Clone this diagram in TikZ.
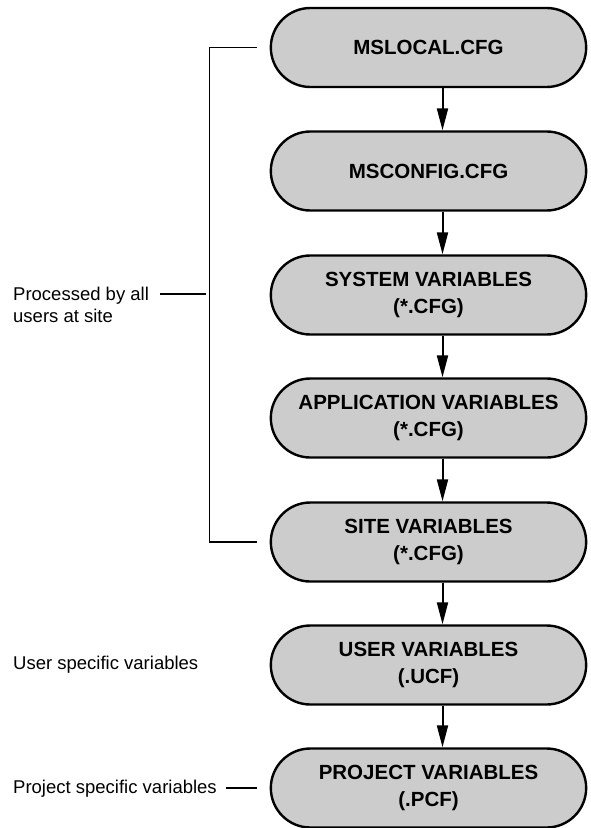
\documentclass[tikz,border=0pt]{standalone}
\usepackage{fontspec}
\setmainfont{Liberation Sans}
\usetikzlibrary{shapes.misc,arrows.meta}
\definecolor{cfggray}{RGB}{204,204,204}

\begin{document}
\begin{tikzpicture}[x=1pt,y=1pt,
  cfgbox/.style={rounded rectangle, draw, line width=2.4pt, fill=cfggray,
    minimum width=322pt, minimum height=79pt, align=center,
    font=\fontsize{20.5}{27}\selectfont\bfseries},
  note/.style={anchor=west, align=left, inner sep=0pt,
    font=\fontsize{18.5}{22}\selectfont},
  flow/.style={line width=2pt, -{Triangle[length=22pt,width=11pt]}},
  bracket/.style={line width=1.2pt}]
\useasboundingbox (0,0) rectangle (591,-828);
% configuration files, read from top to bottom
\node[cfgbox] (mslocal)  at (428.5,-47.5) {MSLOCAL.CFG};
\node[cfgbox] (msconfig) at (428.5,-171)  {MSCONFIG.CFG};
\node[cfgbox] (system)   at (428.5,-295)  {SYSTEM VARIABLES\\(*.CFG)};
\node[cfgbox] (appl)     at (428.5,-418)  {APPLICATION VARIABLES\\(*.CFG)};
\node[cfgbox] (site)     at (428.5,-542)  {SITE VARIABLES\\(*.CFG)};
\node[cfgbox] (user)     at (428.5,-665)  {USER VARIABLES\\(.UCF)};
\node[cfgbox] (project)  at (428.5,-788)  {PROJECT VARIABLES\\(.PCF)};
\foreach \a/\b in {mslocal/msconfig,msconfig/system,system/appl,appl/site,site/user,user/project}
  \draw[flow] ([xshift=14pt]\a.south) -- ([xshift=14pt]\b.north);

% notes on the left
\node[note] (lblall) at (13,-305) {Processed by all\\users at site};
\node[note] (lbluser) at (13,-665) {User specific variables};
\node[note] (lblproj) at (13,-789) {Project specific variables};

\draw[bracket] ([xshift=-13pt]mslocal.west) -- ++(-47,0) |- ([xshift=-13pt]site.west);
\coordinate (tickl) at (160,-294);
\coordinate (tickr) at (206,-294);
\draw[bracket] (tickl) -- (tickr);
\draw[bracket] ([xshift=-13pt]project.west) -- ++(-31,0);
\end{tikzpicture}
\end{document}
